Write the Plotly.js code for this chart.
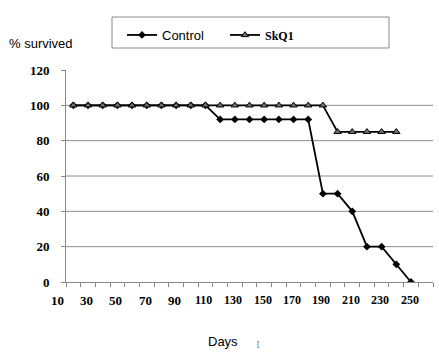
<!DOCTYPE html>
<html>
<head>
<meta charset="utf-8">
<script src="https://cdn.plot.ly/plotly-3.0.1.min.js"></script>
<style>html,body{margin:0;padding:0;background:#fff;}#chart{width:439px;height:352px;}</style>
</head>
<body>
<div id="chart"></div>
<script>
// Data
const days = [20,30,40,50,60,70,80,90,100,110,120,130,140,150,160,170,180,190,200,210,220,230,240,250];
const controlSurvival = [100,100,100,100,100,100,100,100,100,100,92,92,92,92,92,92,92,50,50,40,20,20,10,0];
const skq1Days = [20,30,40,50,60,70,80,90,100,110,120,130,140,150,160,170,180,190,200,210,220,230,240];
const skq1Survival = [100,100,100,100,100,100,100,100,100,100,100,100,100,100,100,100,100,100,85,85,85,85,85];
const xTickLabels = [10,30,50,70,90,110,130,150,170,190,210,230,250];
const yTicks = [0,20,40,60,80,100,120];

const xRange = [15, 265];
const toPaperX = v => (v - xRange[0]) / (xRange[1] - xRange[0]);

const traces = [
  {
    x: days, y: controlSurvival, name: 'Control', type: 'scatter', mode: 'lines+markers',
    line: {color: '#000', width: 1.8},
    marker: {symbol: 'diamond', size: 6, color: '#000'}
  },
  {
    x: skq1Days, y: skq1Survival, type: 'scatter', mode: 'lines+markers',
    name: '<span style="font-family:\'Liberation Serif\';font-weight:bold;font-size:12px">SkQ1</span>',
    line: {color: '#000', width: 1.8},
    marker: {symbol: 'triangle-up', size: 6.5, color: '#707070', line: {color: '#000', width: 1}}
  }
];

const annotations = xTickLabels.map((v, i) => ({
  xref: 'paper', yref: 'paper', x: toPaperX(v - 1), y: -0.085,
  text: String(v), showarrow: false, xanchor: 'center', yanchor: 'middle',
  font: {family: 'Liberation Serif', size: i < 5 ? 13 : 12, color: '#000', weight: 'bold'}
}));
annotations.push(
  {xref: 'paper', yref: 'paper', x: -0.16, y: 1.125, xanchor: 'left', yanchor: 'middle',
   text: '% survived', showarrow: false, font: {family: 'Liberation Sans', size: 13, color: '#000'}},
  {xref: 'paper', yref: 'paper', x: (223 - 66) / 367, y: -0.28, xanchor: 'center', yanchor: 'middle',
   text: 'Days', showarrow: false, font: {family: 'Liberation Sans', size: 13, color: '#000'}},
  {xref: 'paper', yref: 'paper', x: (258 - 66) / 367, y: -0.29, xanchor: 'center', yanchor: 'middle',
   text: '[', showarrow: false, font: {family: 'Liberation Sans', size: 8, color: '#555'}}
);

const shapes = yTicks.filter(v => v > 0 && v < 120).map(v => ({
  type: 'line', xref: 'paper', yref: 'y', x0: 0, x1: 1, y0: v, y1: v,
  line: {color: '#8c8c8c', width: 1}, layer: 'below'
}));
shapes.push({
  type: 'rect', xref: 'paper', yref: 'paper',
  x0: (112 - 66) / 367, x1: (389 - 66) / 367, y0: (282 - 48) / 212, y1: (282 - 17) / 212,
  line: {color: '#8a8a8a', width: 1}, fillcolor: 'rgba(0,0,0,0)'
});

const layout = {
  width: 439, height: 352,
  margin: {l: 66, r: 6, t: 70, b: 70},
  paper_bgcolor: '#fff', plot_bgcolor: '#fff',
  font: {family: 'Liberation Sans', size: 13, color: '#000'},
  showlegend: true,
  legend: {
    orientation: 'h', x: (122 - 66) / 367, y: (282 - 20) / 212, xanchor: 'left', yanchor: 'top',
    bgcolor: 'rgba(0,0,0,0)', borderwidth: 0, font: {family: 'Liberation Sans', size: 13, color: '#000'},
    entrywidth: 58, entrywidthmode: 'pixels'
  },
  xaxis: {
    range: xRange, tick0: 15, dtick: 10, showticklabels: false,
    ticks: 'outside', ticklen: 4, tickcolor: '#888', showgrid: false, zeroline: false,
    showline: true, linecolor: '#888', linewidth: 1, fixedrange: true
  },
  yaxis: {
    range: [0, 120], tickvals: yTicks, ticks: 'outside', ticklen: 4, tickcolor: '#888',
    showgrid: false, zeroline: false, showline: true, linecolor: '#888', linewidth: 1,
    tickfont: {family: 'Liberation Serif', size: 13, color: '#000', weight: 'bold'},
    ticklabelstandoff: 9, fixedrange: true
  },
  annotations: annotations,
  shapes: shapes
};

Plotly.newPlot('chart', traces, layout, {displayModeBar: false, staticPlot: true});
</script>
</body>
</html>
